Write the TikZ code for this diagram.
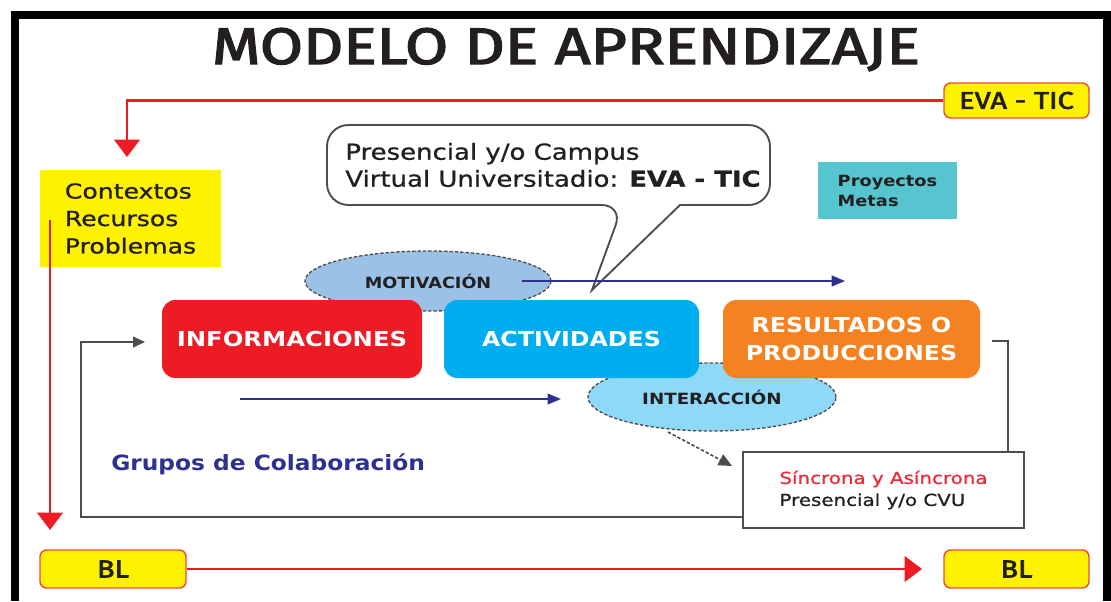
\documentclass[tikz,border=0pt]{standalone}
\usepackage{fontspec}
\setmainfont{DejaVu Sans}
\newfontfamily\condfont{Fira Sans}[FakeBold=2.5]
\newfontfamily\medfont{DejaVu Sans}[FakeBold=0.8]
\usetikzlibrary{arrows.meta,shapes.geometric}
\newcommand{\sx}[2]{\scalebox{#1}[1]{#2}}
\definecolor{rred}{HTML}{ED1C24}
\definecolor{yel}{HTML}{FFF200}
\definecolor{bord}{HTML}{EF4A3C}
\definecolor{navy}{HTML}{2E3192}
\definecolor{motiv}{HTML}{9BC2E6}
\definecolor{inter}{HTML}{8FD9F8}
\definecolor{teal}{HTML}{56C5D0}
\definecolor{txt}{HTML}{231F20}
\definecolor{boxblue}{HTML}{00AEEF}
\definecolor{orng}{HTML}{F58220}
\definecolor{grayln}{HTML}{4D4D4D}
\definecolor{sred}{HTML}{EE2A3A}
\begin{document}
\begin{tikzpicture}[x=0.75pt,y=-0.75pt,
  ybox/.style={draw=bord, line width=1.1pt, fill=yel, rounded corners=5pt, inner sep=0pt, text=txt},
  colbox/.style={rounded corners=10pt, inner sep=0pt, minimum width=257*0.75pt, minimum height=78*0.75pt,
     text=white, align=center, font=\bfseries\fontsize{15.45}{21}\selectfont},
  dellipse/.style={ellipse, draw=grayln, dash pattern=on 2.5pt off 1.5pt, line width=1pt, inner sep=0pt,
     text=txt, font=\bfseries\fontsize{11.6}{14}\selectfont},
  redarrow/.style={draw=rred, line width=2.2pt, -{Triangle[length=13pt,width=19pt]}},
  navyarrow/.style={draw=navy, line width=1.4pt, -{Triangle[length=10pt,width=8pt]}},
  loopline/.style={draw=grayln, line width=1.4pt},
]
\useasboundingbox (0,0) rectangle (1111,601);
\fill[white] (0,0) rectangle (1111,601);
% frame
\fill[black] (11,11) rectangle (1111,19);
\fill[black] (11,11) rectangle (19,601);
\fill[black] (1103,11) rectangle (1111,601);

% title
\node[anchor=base, inner sep=0pt, text=txt] (title) at (566,64)
  {\resizebox{531pt}{27pt}{\condfont MODELO DE APRENDIZAJE}};

% yellow boxes
\node[ybox, minimum width=145*0.75pt, minimum height=35*0.75pt] (eva) at (1016.5,100.5)
  {\resizebox{86pt}{12.75pt}{\condfont EVA - TIC}};
\node[ybox, minimum width=146*0.75pt, minimum height=38*0.75pt] (blL) at (113,569)
  {\resizebox{24pt}{12.75pt}{\condfont BL}};
\node[ybox, minimum width=145*0.75pt, minimum height=38*0.75pt] (blR) at (1016.5,569)
  {\resizebox{24pt}{12.75pt}{\condfont BL}};
\node[fill=yel, minimum width=181*0.75pt, minimum height=97*0.75pt, inner sep=0pt, align=left,
  text=txt, font=\medfont\fontsize{15.45}{20.6}\selectfont] (ctx) at (130.5,218.5)
  {\sx{1.22}{Contextos}\\\sx{1.22}{Recursos}\\\sx{1.22}{Problemas}};

% red arrows
\coordinate (ctxin) at (127,157);
\draw[redarrow] (eva.west) -| (ctxin);
\coordinate (rs) at (50,220);
\coordinate (re) at (50,530);
\draw[redarrow] (rs) -- (re);
\coordinate (blin) at (922,569);
\draw[redarrow] (blL.east) -- (blin);

% proyectos
\node[fill=teal, minimum width=139*0.75pt, minimum height=57*0.75pt, inner sep=0pt, align=left,
  text=txt, font=\bfseries\fontsize{11.6}{15}\selectfont] (proy) at (887.5,190.5)
  {\sx{1.15}{Proyectos}\\\sx{1.15}{Metas}};

% callout
\draw[draw=grayln, line width=1.4pt, fill=white]
  (548,125) [rounded corners=16pt] -- (327,125) -- (327,205) -- (623,205)
  [sharp corners] -- (592,290) -- (680,205)
  [rounded corners=16pt] -- (770,205) -- (770,125) -- cycle;
\node[inner sep=0pt, align=left, text=txt, font=\medfont\fontsize{16.5}{20.25}\selectfont] (callout) at (553,165)
  {\sx{1.18}{Presencial y/o Campus}\\\sx{1.18}{Virtual Universitadio: \textbf{EVA - TIC}}};

% ellipses
\node[dellipse, fill=motiv, minimum width=246*0.75pt, minimum height=60*0.75pt] (motiv) at (428,281)
  {\sx{1.14}{MOTIVACIÓN}};
\node[dellipse, fill=inter, minimum width=248*0.75pt, minimum height=68*0.75pt] (inter) at (712,397)
  {\raisebox{-3pt}{\sx{1.18}{INTERACCIÓN}}};

% main boxes
\node[colbox, fill=rred, minimum width=260*0.75pt] (info) at (292,339) {\sx{1.18}{INFORMACIONES}};
\node[colbox, fill=boxblue, minimum width=255*0.75pt] (act) at (571.5,339) {\sx{1.15}{ACTIVIDADES}};
\node[colbox, fill=orng] (res) at (851.5,339) {\sx{1.15}{RESULTADOS O}\\\sx{1.15}{PRODUCCIONES}};

% navy arrows
\coordinate (m1) at (522,281);
\coordinate (m2) at (845,281);
\draw[navyarrow] (m1) -- (m2);
\coordinate (g1) at (240,399);
\coordinate (g2) at (561,399);
\draw[navyarrow] (g1) -- (g2);

% grupos
\node[anchor=base west, inner sep=0pt, text=navy, font=\bfseries\fontsize{15.75}{19}\selectfont] (grupos) at (111,470)
  {\sx{1.11}{Grupos de Colaboración}};

% sincrona box
\node[draw=grayln, line width=1.1pt, fill=white, minimum width=281*0.75pt, minimum height=76*0.75pt,
  inner sep=0pt, align=left, text=txt, font=\medfont\fontsize{12.4}{16.5}\selectfont] (sync) at (883.5,490)
  {\textcolor{sred}{\sx{1.2}{Síncrona y Asíncrona}}\\\sx{1.2}{Presencial y/o CVU}};

% dashed arrow
\coordinate (d1) at (668,432);
\coordinate (d2) at (732,466);
\draw[draw=grayln, line width=1.2pt, dash pattern=on 2.5pt off 1.5pt, -{Triangle[length=10pt,width=9pt]}] (d1) -- (d2);

% loop
\coordinate (l1) at (992,341);
\coordinate (l2x) at (1008,0);
\draw[loopline] (l1) -| (sync.north -| l2x);
\coordinate (lb) at (81,517);
\coordinate (lt) at (81,342);
\coordinate (infin) at (145,342);
\draw[loopline, -{Triangle[length=9pt,width=8pt]}] (sync.west |- lb) -- (lb) -- (lt) -- (infin);
\end{tikzpicture}
\end{document}
